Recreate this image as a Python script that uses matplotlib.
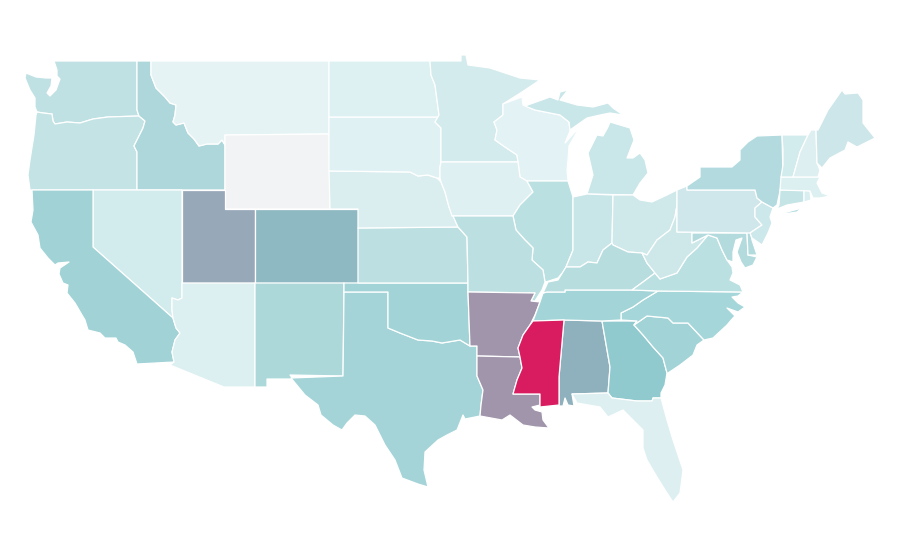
import matplotlib
matplotlib.use("Agg")
import matplotlib.pyplot as plt
from matplotlib.patches import Polygon

# State outlines (projected map units)
WA = [(54,61),(137,61),(137,110),(139,116),(108,117),(93,119),(80,123),(67,122),(55,124),(53,121),(52,114),(43,113),(37,112),(35,107),(35,98),(30,90),(25,78),(26,73),(36,77),(46,78),(52,78),(51,86),(47,93),(50,96),(56,90),(60,79),(57,76),(57,70),(55,64)]
OR = [(37,112),(43,113),(52,114),(53,121),(55,124),(67,122),(80,123),(93,119),(108,117),(139,116),(145,121),(143,128),(138,138),(134,146),(137,152),(137,190),(30,190),(28,175),(30,160),(34,135),(36,115)]
ID = [(137,61),(151,61),(151,75),(156,88),(165,97),(170,103),(176,105),(175,115),(173,122),(176,125),(184,123),(188,133),(194,139),(199,146),(207,144),(218,144),(222,140),(225,145),(225,190),(137,190),(137,152),(134,146),(138,138),(143,128),(145,121),(139,116),(137,110)]
MT = [(151,61),(329,61),(329,134),(225,135),(225,145),(222,140),(218,144),(207,144),(199,146),(194,139),(188,133),(184,123),(176,125),(173,122),(175,115),(176,105),(170,103),(165,97),(156,88),(151,75)]
WY = [(225,135),(329,134),(330,209),(225,209)]
UT = [(182,190),(225,190),(225,209),(255,209),(255,283),(182,283)]
CO = [(255,209),(358,209),(358,283),(255,283)]
NV = [(93,190),(182,190),(182,298),(178,300),(172,298),(172,310),(173,318),(93,247)]
CA = [(32,190),(93,190),(93,247),(173,318),(176,328),(180,333),(175,340),(172,352),(174,362),(137,364),(133,352),(125,345),(118,342),(116,338),(105,338),(100,333),(88,330),(85,320),(82,315),(75,303),(67,293),(68,285),(63,283),(59,274),(60,268),(69,262),(58,263),(55,265),(48,258),(40,248),(38,235),(31,222),(33,210)]
AZ = [(182,283),(255,283),(255,387),(224,387),(170,365),(174,362),(172,352),(175,340),(180,333),(176,328),(173,318),(172,310),(172,298),(178,300),(182,298)]
NM = [(255,283),(344,283),(344,292),(343,376),(290,375),(293,379),(267,379),(267,387),(255,387)]
TX = [(344,292),(388,292),(388,328),(400,333),(418,340),(432,341),(442,343),(460,340),(470,346),(477,346),(477,376),(483,390),(481,405),(480,416),(465,419),(463,415),(457,430),(447,435),(438,440),(425,452),(424,470),(428,487),(418,484),(402,478),(395,460),(385,445),(375,425),(365,416),(355,415),(347,423),(342,430),(333,425),(321,415),(318,405),(305,395),(291,378),(343,376)]
OK = [(344,283),(468,283),(468,292),(470,346),(460,340),(442,343),(432,341),(418,340),(400,333),(388,328),(388,292),(344,292)]
KS = [(358,228),(458,227),(467,237),(468,283),(358,283)]
NE = [(329,171),(410,172),(418,176),(428,175),(437,178),(441,182),(445,192),(449,207),(453,215),(458,227),(358,228),(358,209),(330,209)]
SD = [(329,117),(438,117),(435,122),(441,128),(441,162),(440,167),(440,178),(437,178),(428,175),(418,176),(410,172),(329,171)]
ND = [(329,61),(430,61),(431,75),(435,85),(437,100),(439,115),(438,117),(329,117)]
MN = [(430,61),(461,61),(461,55),(466,55),(468,65),(490,68),(505,73),(520,78),(540,80),(522,92),(503,104),(503,115),(494,122),(497,130),(495,140),(505,147),(517,155),(518,162),(441,162),(441,128),(435,122),(439,115),(437,100),(435,85),(431,75)]
WI = [(503,104),(522,97),(523,105),(535,110),(560,115),(569,122),(570,131),(565,143),(575,132),(578,130),(569,146),(568,160),(567,170),(568,181),(527,181),(520,177),(518,162),(517,155),(505,147),(495,140),(497,130),(494,122),(503,115)]
MI_UP = [(525,106),(550,97),(558,100),(560,92),(568,90),(560,100),(577,105),(593,107),(608,103),(613,108),(623,115),(610,113),(600,115),(587,118),(577,125),(570,130),(569,122),(560,115),(535,110)]
MI_LP = [(610,122),(620,125),(630,128),(634,140),(627,158),(633,158),(640,153),(645,160),(648,173),(640,183),(633,195),(587,194),(593,175),(588,153),(597,135),(603,136),(608,127)]
IA = [(441,162),(518,162),(520,177),(527,181),(533,192),(520,205),(513,216),(452,216),(449,207),(445,192),(441,182),(440,178),(440,167)]
IL = [(527,181),(568,181),(573,197),(573,250),(566,267),(563,272),(558,278),(549,281),(545,282),(543,270),(532,260),(533,248),(525,240),(516,230),(513,216),(520,205),(533,192)]
IN = [(573,197),(587,194),(613,195),(612,243),(603,250),(597,263),(588,262),(580,267),(566,267),(573,250)]
OH = [(613,195),(633,195),(640,200),(652,202),(667,195),(677,190),(677,205),(675,217),(670,230),(657,240),(647,255),(642,253),(628,252),(613,245),(612,243)]
MO = [(453,216),(513,216),(516,230),(525,240),(533,248),(532,260),(543,270),(545,282),(542,290),(540,293),(535,301),(531,301),(535,293),(468,292),(468,283),(467,237),(458,227)]
AR = [(468,292),(535,293),(531,301),(540,302),(535,315),(530,325),(523,335),(518,348),(520,357),(477,356),(477,346),(470,346)]
LA = [(477,356),(520,357),(522,368),(517,380),(513,394),(540,394),(540,405),(532,407),(535,410),(542,412),(543,420),(549,428),(535,427),(523,425),(510,415),(502,420),(480,416),(481,405),(483,390),(477,376)]
MS = [(533,321),(564,320),(559,377),(559,405),(540,407),(540,394),(513,394),(517,380),(522,368),(520,357),(518,348),(523,335),(530,325)]
AL = [(564,320),(602,321),(610,367),(608,393),(572,394),(574,406),(568,405),(565,398),(563,406),(559,406),(559,377)]
GA = [(602,321),(637,321),(634,325),(643,335),(653,347),(663,358),(667,373),(665,385),(661,393),(661,398),(653,398),(652,403),(652,401),(637,401),(612,398),(608,393),(610,367)]
SC = [(634,325),(647,316),(668,318),(673,323),(688,323),(704,340),(697,345),(693,355),(680,365),(668,373),(667,373),(663,358),(653,347),(643,335)]
NC = [(658,291),(743,292),(738,296),(732,297),(738,303),(745,307),(738,312),(727,308),(735,316),(733,318),(727,325),(713,338),(704,340),(688,323),(673,323),(668,318),(647,316),(634,325),(637,321),(621,320),(621,313),(633,307),(643,300)]
TN = [(547,292),(565,292),(565,290),(632,290),(658,291),(643,300),(633,307),(621,313),(621,320),(602,321),(564,320),(533,321),(540,302),(543,293)]
KY = [(548,282),(558,280),(566,267),(580,267),(588,262),(597,263),(603,250),(612,243),(613,245),(628,252),(642,253),(647,263),(655,273),(643,282),(632,290),(565,290),(565,292),(547,292),(543,293)]
VA = [(632,290),(643,282),(655,273),(660,279),(677,273),(687,257),(697,248),(708,235),(717,238),(722,250),(727,260),(732,267),(733,273),(730,280),(740,285),(743,292),(658,291)]
WV = [(677,205),(677,232),(692,232),(692,243),(700,239),(708,235),(697,248),(687,257),(677,273),(660,279),(655,273),(647,263),(642,253),(647,255),(657,240),(670,230),(675,217)]
MD = [(692,233),(747,233),(748,255),(757,257),(753,265),(745,268),(741,262),(737,252),(742,238),(736,240),(733,252),(733,262),(727,260),(722,250),(717,238),(708,235),(700,239),(692,243)]
DE = [(747,233),(750,230),(752,240),(757,255),(748,255)]
PA = [(677,190),(687,186),(687,190),(755,190),(757,198),(762,202),(755,208),(755,217),(762,225),(750,233),(677,232)]
NJ = [(762,202),(773,208),(770,217),(772,223),(768,233),(762,245),(752,238),(750,233),(762,225),(755,217),(755,208)]
NY = [(687,186),(687,190),(755,190),(757,198),(762,202),(773,208),(777,205),(783,177),(782,135),(757,136),(748,142),(740,150),(740,160),(732,167),(718,167),(700,167),(700,177)]
NY_LI = [(772,216),(787,212),(802,208),(797,212),(777,215)]
CT = [(780,190),(804,190),(804,202),(787,205),(777,209),(779,205)]
RI = [(804,190),(810,191),(811,200),(804,202)]
MA = [(781,177),(820,177),(817,183),(822,193),(830,196),(820,198),(813,198),(810,191),(780,190)]
VT = [(782,135),(808,135),(800,152),(793,177),(781,177),(783,165),(783,150)]
NH = [(811,130),(816,130),(817,163),(820,170),(818,177),(793,177),(800,152),(808,135)]
ME = [(816,130),(818,130),(828,110),(842,90),(845,94),(858,93),(863,100),(863,123),(875,138),(857,147),(848,142),(845,150),(830,158),(822,168),(817,163)]
FL = [(572,394),(608,393),(612,398),(637,401),(652,401),(653,398),(661,398),(667,420),(673,440),(683,470),(680,493),(673,502),(667,493),(657,477),(647,460),(643,448),(643,430),(633,420),(623,410),(608,417),(600,407),(577,403)]

state_shapes = [WA,OR,ID,MT,WY,UT,CO,NV,CA,AZ,NM,TX,OK,KS,NE,SD,ND,MN,WI,MI_UP,MI_LP,IA,IL,IN,OH,MO,AR,LA,
                AL,GA,SC,NC,TN,KY,VA,WV,MD,DE,PA,NJ,NY,NY_LI,CT,RI,MA,VT,NH,ME,FL,MS]
state_fills = ['#bfe1e3','#c4e3e5','#aed7db','#e5f3f4','#f2f3f5','#97a8b9','#8fb9c2','#d2ebec','#a0d2d6','#dceff1','#acd8da',
               '#a4d4d8','#a2d3d6','#bce0e1','#daeef0','#e0f1f4','#ddf0f2','#d4ebed','#e2f2f5','#c9e6e9','#c9e6e9','#dff0f3',
               '#bae0e1','#c8e6e8','#cfe8ea','#bce0e1','#a095ab','#a095ab','#8eb1bd','#90cace','#a2d3d6','#a5d6d9','#a3d4d7',
               '#b8dddf','#bbe0e1','#cee8ea','#b3dbde','#b3dbde','#cfe7ea','#cde8ea','#b3dbdf','#b3dbdf','#c5e4e6','#d8eef0',
               '#dceff1','#d2ebec','#ddeff1','#cde6e9','#ddeff1','#d91b60']

fig = plt.figure(figsize=(9, 5.6), dpi=100, facecolor='white')
ax = fig.add_axes([0, 0, 1, 1])
ax.set_xlim(0, 900)
ax.set_ylim(560, 0)
ax.axis('off')
for shape, fill in zip(state_shapes, state_fills):
    ax.add_patch(Polygon(shape, closed=True, facecolor=fill, edgecolor='white', linewidth=0.9, joinstyle='round'))
fig.savefig('out.png', dpi=100, facecolor='white')
